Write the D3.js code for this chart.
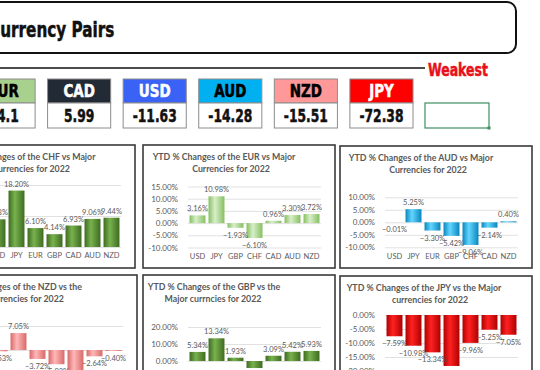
<!DOCTYPE html>
<html>
<head>
<meta charset="utf-8">
<title>Currency Pairs</title>
<script src="https://cdn.jsdelivr.net/npm/d3@7"></script>
<style>
  body { margin: 0; background: #fff; }
  svg { display: block; }
  .narrow { font-family: "Liberation Sans Narrow", "DejaVu Sans Condensed", sans-serif; font-weight: bold; }
  .cal { font-family: Lato, "Open Sans", sans-serif; fill: #595959; }
</style>
</head>
<body>
<svg id="chart"></svg>
<script>
// strength scores across the top strip
const boxCurrencies = ["EUR", "CAD", "USD", "AUD", "NZD", "JPY"];
const boxScores = [14.1, 5.99, -11.63, -14.28, -15.51, -72.38];

// YTD % change of each currency vs the majors
const chfCats = ["USD", "JPY", "EUR", "GBP", "CAD", "AUD", "NZD"];
const chfVals = [8.93, 18.20, 6.10, 4.14, 6.93, 9.06, 9.44];
const eurCats = ["USD", "JPY", "GBP", "CHF", "CAD", "AUD", "NZD"];
const eurVals = [3.16, 10.98, -1.93, -6.10, 0.96, 3.30, 3.72];
const audCats = ["USD", "JPY", "EUR", "GBP", "CHF", "CAD", "NZD"];
const audVals = [-0.01, 5.25, -3.30, -5.42, -9.06, -2.14, 0.40];
const nzdCats = ["USD", "JPY", "EUR", "GBP", "CHF", "CAD", "AUD"];
const nzdVals = [-0.53, 7.05, -3.72, -5.93, -9.44, -2.64, -0.40];
const gbpCats = ["USD", "JPY", "EUR", "CHF", "CAD", "AUD", "NZD"];
const gbpVals = [5.34, 13.34, 1.93, -4.14, 3.09, 5.42, 5.93];
const jpyCats = ["USD", "EUR", "GBP", "CHF", "CAD", "AUD", "NZD"];
const jpyVals = [-7.59, -10.98, -13.34, -18.20, -9.96, -5.25, -7.05];

const W = 540, H = 370;
const svg = d3.select("#chart").attr("width", W).attr("height", H);
const defs = svg.append("defs");

// bar gradients (dark edge, light stripe, dark edge)
const grads = {
  chf: ["#3e6b20", "#78b24e", "#3e6b20"],
  gbp: ["#3e6b20", "#78b24e", "#3e6b20"],
  eur: ["#86bf62", "#d8efc9", "#86bf62"],
  aud: ["#0a86bd", "#62d6ff", "#0a86bd"],
  nzd: ["#d86a6a", "#ffb8b8", "#d86a6a"],
  jpy: ["#b00000", "#ff2222", "#b00000"]
};
Object.entries(grads).forEach(([k, c]) => {
  const g = defs.append("linearGradient").attr("id", "g-" + k)
    .attr("x1", 0).attr("x2", 1).attr("y1", 0).attr("y2", 0);
  g.append("stop").attr("offset", 0).attr("stop-color", c[0]);
  g.append("stop").attr("offset", 0.4).attr("stop-color", c[1]);
  g.append("stop").attr("offset", 1).attr("stop-color", c[2]);
});

// condensed bold text (no Impact here, so squeeze DejaVu Condensed)
function narrowText(parent, x, y, size, sx, fill, anchor, txt) {
  return parent.append("text").attr("class", "narrow")
    .attr("transform", `translate(${x},${y}) scale(${sx},1)`)
    .attr("font-size", size).attr("fill", fill)
    .attr("stroke", fill).attr("stroke-width", 0.5)
    .attr("text-anchor", anchor || "start")
    .text(txt);
}

// ---- header ----
svg.append("rect")
  .attr("x", -20).attr("y", 2).attr("width", 536).attr("height", 51)
  .attr("rx", 9).attr("fill", "#fff").attr("stroke", "#111").attr("stroke-width", 2);
narrowText(svg, -11, 37, 22, 0.77, "#111", "start", "Currency Pairs");

svg.append("line")
  .attr("x1", 0).attr("x2", 425).attr("y1", 68).attr("y2", 68)
  .attr("stroke", "#111").attr("stroke-width", 1.5);
narrowText(svg, 428, 76, 18, 0.77, "#e8111a", "start", "Weakest");

const boxColors = { EUR: "#a9d18e", CAD: "#222a35", USD: "#3a63f5", AUD: "#00b0f0", NZD: "#ff9999", JPY: "#ff0000" };
const boxText = { EUR: "#000", CAD: "#fff", USD: "#fff", AUD: "#000", NZD: "#000", JPY: "#fff" };

const bx = d3.scaleBand().domain(boxCurrencies).range([-28, 413]).paddingInner(0.165).paddingOuter(0);
const boxes = svg.selectAll("g.box").data(boxCurrencies).join("g").attr("class", "box")
  .attr("transform", d => `translate(${bx(d)},79)`);
boxes.append("rect").attr("width", bx.bandwidth()).attr("height", 24)
  .attr("fill", d => boxColors[d]).attr("stroke", "#8c8c8c").attr("stroke-width", 1);
boxes.append("rect").attr("y", 24).attr("width", bx.bandwidth()).attr("height", 25)
  .attr("fill", "#fff").attr("stroke", "#8c8c8c").attr("stroke-width", 1);
boxes.each(function (d, i) {
  const b = d3.select(this);
  narrowText(b, bx.bandwidth() / 2, 18, 17, 0.88, boxText[d], "middle", d);
  narrowText(b, bx.bandwidth() / 2, 43, 18, 0.76, "#111", "middle", String(boxScores[i]));
});

// empty selected cell
svg.append("rect").attr("x", 425).attr("y", 103).attr("width", 64).attr("height", 25)
  .attr("fill", "#fff").attr("stroke", "#3f8f5f").attr("stroke-width", 1.2);
svg.append("rect").attr("x", 487.5).attr("y", 126.5).attr("width", 3).attr("height", 3).attr("fill", "#3f8f5f");

// ---- chart panels ----
const panels = [
  { cats: chfCats, vals: chfVals, grad: "chf", x: -57, y: 145, h: 123,
    title: ["YTD % Changes of the CHF vs Major", "Currencies for 2022"], tc: [81, 88],
    dom: [0, 20], rng: [247, 185], step: 10 },
  { cats: eurCats, vals: eurVals, grad: "eur", x: 143, y: 145, h: 123,
    title: ["YTD % Changes of the EUR vs Major", "Currencies for 2022"], tc: [81, 88],
    dom: [-10, 15], rng: [247.5, 186.5], step: 5 },
  { cats: audCats, vals: audVals, grad: "aud", x: 340, y: 146, h: 122,
    title: ["YTD % Changes of the AUD vs Major", "Currencies for 2022"], tc: [81, 88],
    dom: [-10, 10], rng: [247.3, 197.3], step: 5 },
  { cats: nzdCats, vals: nzdVals, grad: "nzd", x: -55, y: 275, h: 110,
    title: ["YTD % Changes of the NZD vs the", "Currencies for 2022"], tc: [70, 80],
    dom: [-10, 10], rng: [374, 326], step: 10 },
  { cats: gbpCats, vals: gbpVals, grad: "gbp", x: 143, y: 275, h: 110,
    title: ["YTD % Changes of the GBP vs the", "Major currncies for 2022"], tc: [71, 70],
    dom: [-10, 20], rng: [378, 327], step: 10 },
  { cats: jpyCats, vals: jpyVals, grad: "jpy", x: 340, y: 276, h: 110,
    title: ["YTD % Changes of the JPY vs the Major", "currencies for 2022"], tc: [84, 90],
    dom: [-20, 0], rng: [371, 315], step: 5 }
];

const PW = 192;
const fmt = d => d3.format(".2f")(d) + "%";

panels.forEach(p => {
  const g = svg.append("g");
  g.append("rect").attr("x", p.x).attr("y", p.y).attr("width", PW).attr("height", p.h)
    .attr("fill", "#fff").attr("stroke", "#3a3a3a").attr("stroke-width", 1.6);

  p.title.forEach((t, i) => {
    g.append("text").attr("class", "cal")
      .attr("x", p.x + p.tc[i]).attr("y", p.y + 15 + i * 12)
      .attr("text-anchor", "middle").attr("font-size", 8.8).attr("font-weight", "bold")
      .text(t);
  });

  const x = d3.scaleBand().domain(p.cats).range([p.x + 45, p.x + 178]).paddingInner(0.16).paddingOuter(0.08);
  const y = d3.scaleLinear().domain(p.dom).range(p.rng);
  const ticks = d3.range(p.dom[0], p.dom[1] + 0.001, p.step);

  // gridlines
  g.append("g").attr("transform", `translate(${p.x + 45},0)`)
    .call(d3.axisLeft(y).tickValues(ticks).tickSize(-133).tickFormat(""))
    .call(a => a.select(".domain").remove())
    .call(a => a.selectAll("line").attr("stroke", "#d9d9d9").attr("stroke-width", 0.8));

  // y labels
  g.append("g").attr("transform", `translate(${p.x + 45},0)`)
    .call(d3.axisLeft(y).tickValues(ticks).tickSize(0).tickPadding(10).tickFormat(d => d.toFixed(2) + "%"))
    .call(a => a.select(".domain").remove())
    .call(a => a.selectAll("text").attr("class", "cal").attr("font-size", 8).attr("fill", "#595959"));

  // category labels
  g.append("g").attr("transform", `translate(0,${p.rng[0]})`)
    .call(d3.axisBottom(x).tickSize(0).tickPadding(6))
    .call(a => a.select(".domain").remove())
    .call(a => a.selectAll("text").attr("class", "cal").attr("font-size", 7.5).attr("fill", "#595959"));

  const data = p.cats.map((c, i) => ({ c, v: p.vals[i] }));
  g.selectAll("rect.bar").data(data).join("rect").attr("class", "bar")
    .attr("x", d => x(d.c)).attr("width", x.bandwidth())
    .attr("y", d => y(Math.max(0, d.v)))
    .attr("height", d => Math.abs(y(d.v) - y(0)))
    .attr("fill", `url(#g-${p.grad})`);

  g.selectAll("text.lbl").data(data).join("text").attr("class", "cal lbl")
    .attr("x", d => x(d.c) + x.bandwidth() / 2)
    .attr("y", d => d.v >= 0 ? y(d.v) - 4 : y(d.v) + 10)
    .attr("text-anchor", "middle").attr("font-size", 7.5)
    .text(d => fmt(d.v));
});
</script>
</body>
</html>
